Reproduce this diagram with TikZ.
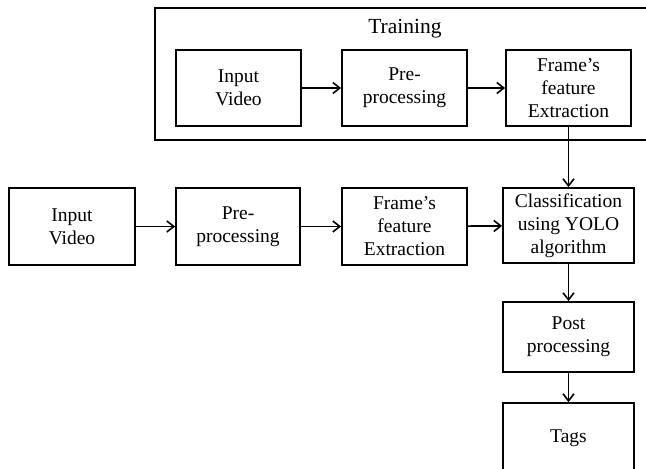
\documentclass[tikz,border=0pt]{standalone}
\usepackage{fontspec}
\setmainfont{Liberation Serif}
\usetikzlibrary{arrows.meta}
\begin{document}
\begin{tikzpicture}[x=1pt,y=-1pt,
  stagebox/.style={draw, line width=1.8pt, align=center, inner sep=0pt,
    font=\fontsize{19.5}{23}\selectfont},
  flow/.style={line width=1.7pt, -{Straight Barb[length=7pt,width=11pt,line width=1.6pt]}}]
  \clip (0,0) rectangle (646,469);
  % training frame, running off the right edge
  \draw[line width=1.8pt] (155,8) rectangle (660,140);
  \node[font=\fontsize{21.5}{25}\selectfont] (trainlbl) at (405,29) {Training};
  % training row
  \node[stagebox, minimum width=125pt, minimum height=76pt] (tin) at (238.5,88) {Input\\Video};
  \node[stagebox, minimum width=125pt, minimum height=76pt] (tpre) at (404.5,88) {Pre-\\processing};
  \node[stagebox, minimum width=125pt, minimum height=76pt] (tfeat) at (568.5,88) {Frame’s\\feature\\Extraction};
  % test row
  \node[stagebox, minimum width=126pt, minimum height=77pt] (in) at (72,226.5) {Input\\Video};
  \node[stagebox, minimum width=124pt, minimum height=77pt] (pre) at (238,226.5) {Pre-\\processing};
  \node[stagebox, minimum width=125pt, minimum height=77pt] (feat) at (404.5,226.5) {Frame’s\\feature\\Extraction};
  \node[stagebox, minimum width=131pt, minimum height=75pt] (cls) at (568.5,225.5) {Classification\\using YOLO\\algorithm};
  \node[stagebox, minimum width=131pt, minimum height=70pt] (post) at (568.5,337) {Post\\processing};
  \node[stagebox, minimum width=131pt, minimum height=70pt] (tags) at (568.5,438) {Tags};
  % connectors
  \draw[flow] (tin) -- (tpre);
  \draw[flow] (tpre) -- (tfeat);
  \draw[flow] (tfeat) -- (cls);
  \draw[flow] (in) -- (pre);
  \draw[flow] (pre) -- (feat);
  \draw[flow] (feat) -- (cls);
  \draw[flow] (cls) -- (post);
  \draw[flow] (post) -- (tags);
\end{tikzpicture}
\end{document}
